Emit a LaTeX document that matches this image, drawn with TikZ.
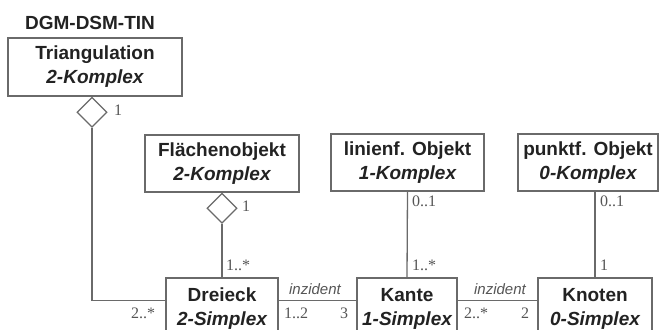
\documentclass[tikz,border=0pt]{standalone}
\usepackage{fontspec}
\setmainfont{Liberation Serif}
\setsansfont{Liberation Sans}
\usetikzlibrary{shapes.geometric}
\definecolor{linec}{HTML}{6A6A6A}
\definecolor{textc}{HTML}{222222}
\definecolor{multc}{HTML}{555555}
\begin{document}
\begin{tikzpicture}[x=1pt,y=-1pt,
  cls/.style={draw=linec, line width=1.3pt, rectangle, inner sep=0pt, align=center,
    text=textc, font=\sffamily\bfseries\fontsize{19}{24}\selectfont},
  topcls/.style={cls, minimum height=57pt, execute at begin node={\rule{0pt}{20pt}}},
  agg/.style={draw=linec, line width=1.3pt, diamond, aspect=1, minimum size=30pt, inner sep=0pt, fill=white, anchor=north},
  conn/.style={draw=linec, line width=1.3pt},
  mult/.style={text=multc, font=\rmfamily\fontsize{16}{16}\selectfont, inner sep=0pt},
  assoc/.style={text=multc, font=\sffamily\itshape\fontsize{15}{15}\selectfont, inner sep=0pt}]
\useasboundingbox (0,0) rectangle (663,329);
\clip (0,0) rectangle (663,329);

\node[text=textc, font=\sffamily\bfseries\fontsize{19}{19}\selectfont, inner sep=0pt] (title) at (90,23) {DGM-DSM-TIN};

\node[topcls, minimum width=174pt, minimum height=58pt] (tri) at (95,67) {Triangulation\\\itshape 2-Komplex};
\node[topcls, minimum width=154pt] (flo) at (222,163.5) {Flächenobjekt\\\itshape 2-Komplex};
\node[topcls, minimum width=153pt] (lin) at (407.5,162.5) {linienf. Objekt\\\itshape 1-Komplex};
\node[topcls, minimum width=140pt] (pun) at (588,162.5) {punktf. Objekt\\\itshape 0-Komplex};

\node[cls, minimum width=112pt, minimum height=62pt] (dre) at (222,309) {Dreieck\\\itshape 2-Simplex};
\node[cls, minimum width=100pt, minimum height=62pt] (kan) at (407,309) {Kante\\\itshape 1-Simplex};
\node[cls, minimum width=114pt, minimum height=62pt] (kno) at (595,309) {Knoten\\\itshape 0-Simplex};

\node[agg] (dtri) at (tri.south -| 92,0) {};
\node[agg] (dflo) at (flo.south) {};

\coordinate (dreL) at ([yshift=-23pt]dre.north west);
\coordinate (dreR) at ([yshift=-23pt]dre.north east);
\coordinate (kanL) at ([yshift=-23pt]kan.north west);
\coordinate (kanR) at ([yshift=-23pt]kan.north east);
\coordinate (knoL) at ([yshift=-23pt]kno.north west);

\draw[conn] (dtri.south) |- (dreL);
\draw[conn] (dflo.south) -- (dre.north);
\draw[conn] (lin.south) -- (kan.north);
\draw[conn] (pun.south -| kno.north) -- (kno.north);
\draw[conn] (dreR) -- (kanL);
\draw[conn] (kanR) -- (knoL);

% multiplicities
\node[mult, anchor=west] (m1) at (114,110) {1};
\node[mult, anchor=west] (m2) at (242,206) {1};
\node[mult, anchor=west] (m3) at (226,265) {1..*};
\node[mult, anchor=west] (m4) at (131,313) {2..*};
\node[mult, anchor=west] (m5) at (284,313) {1..2};
\node[mult, anchor=west] (m6) at (340,313) {3};
\node[mult, anchor=west] (m7) at (412,201) {0..1};
\node[mult, anchor=west] (m8) at (412,265) {1..*};
\node[mult, anchor=west] (m9) at (464,313) {2..*};
\node[mult, anchor=west] (m10) at (521,313) {2};
\node[mult, anchor=west] (m11) at (600,201) {0..1};
\node[mult, anchor=west] (m12) at (600,265) {1};

\node[assoc] (a1) at (315,289) {inzident};
\node[assoc] (a2) at (500,289) {inzident};
\end{tikzpicture}
\end{document}
